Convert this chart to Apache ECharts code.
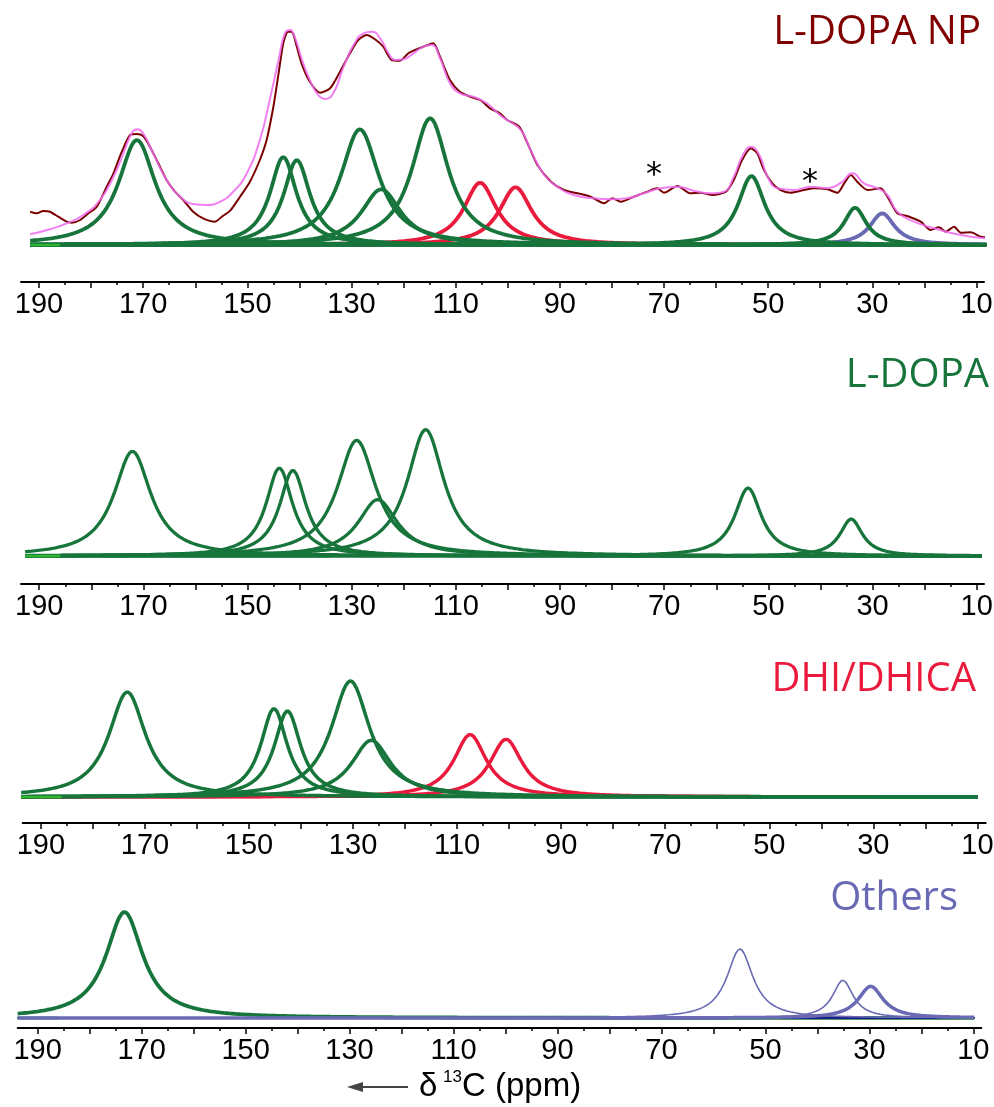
<!DOCTYPE html>
<html>
<head>
<meta charset="utf-8">
<script src="https://cdn.jsdelivr.net/npm/echarts@6/dist/echarts.min.js"></script>
<style>
  html, body { margin: 0; padding: 0; background: #fff; }
  #chart { width: 994px; height: 1107px; }
</style>
</head>
<body>
<div id="chart"></div>
<script>
// tick values (ppm)
const xTicksMajor = [190, 180, 170, 160, 150, 140, 130, 120, 110, 100, 90, 80, 70, 60, 50, 40, 30, 20, 10];
const xTicksMinor = [185, 175, 165, 155, 145, 135, 125, 115, 105, 95, 85, 75, 65, 55, 45, 35, 25, 15];
const xTickLabels = [190, 170, 150, 130, 110, 90, 70, 50, 30, 10];

// fitted peaks: [centre ppm, height, half width ppm]
const npGreen = [[171.2, 105, 4.3], [143.1, 88, 3.1], [140.5, 85, 3.1], [128.4, 115.7, 4.5],
                 [124.3, 55.7, 4.6], [114.9, 126.7, 4.3], [53.2, 69, 3.1], [33.3, 37.3, 2.6]];
const npRed = [[105.3, 62.3, 3.8], [98.5, 57.7, 3.8]];
const npBlue = [[28.1, 31.7, 2.9]];

const dopaGreen = [[172.1, 104.7, 4.3], [143.9, 88, 3.1], [141.3, 85.7, 3.1], [129.05, 115.7, 4.5],
                   [125.0, 56.4, 4.6], [115.8, 126.4, 4.3], [53.9, 68, 3.1], [34.1, 37, 2.6]];

const dhiGreen = [[173.4, 105, 4.3], [145.2, 88.4, 3.1], [142.6, 86, 3.1], [130.5, 116, 4.5], [126.5, 56.7, 4.6]];
const dhiRed = [[107.5, 62.4, 3.8], [100.6, 57.7, 3.8]];

const otherGreen = [[173.3, 106, 4.3]];
const otherBlueThin = [[54.9, 69, 3.05], [35.1, 37.7, 2.4]];
const otherBlueThick = [[29.75, 31.7, 2.9]];

// measured L-DOPA NP spectrum [ppm, intensity]
const npSpectrum = [
  [191.7, 33.3], [190.4, 31.7], [189.2, 34], [187.9, 33.3], [186.3, 28.3], [184.7, 23.3], [183.7, 22.3],
  [182.1, 25], [180.5, 31.7], [178.9, 38.3], [177.0, 58.3], [175.7, 71.7], [174.1, 93.3], [172.5, 110],
  [171.2, 111], [170.0, 109], [168.7, 98.3], [167.1, 81.7], [165.5, 65], [163.9, 53.3], [162.3, 45],
  [160.4, 33.3], [158.5, 26.7], [156.2, 23.3], [154.9, 28.3], [153.3, 34.3], [151.4, 48.3], [149.5, 63.3],
  [147.6, 85], [146.3, 105], [145.0, 138.3], [144.0, 171.7], [143.1, 201.7], [142.2, 213.3], [141.5, 213.3],
  [140.5, 198.3], [139.6, 181.7], [138.0, 163.3], [136.0, 152.3], [134.1, 156.7], [132.2, 173.3],
  [130.3, 191.7], [128.7, 205], [127.1, 210], [125.5, 205.7], [123.9, 198.3], [122.3, 185], [120.7, 184.3],
  [119.1, 191.7], [117.5, 195.7], [116.2, 198.3], [114.3, 201.7], [113.0, 188.3], [111.1, 165], [109.2, 153.3],
  [107.2, 148.3], [105.3, 145], [103.4, 136.7], [101.5, 131.7], [100.1, 125], [97.8, 118.3], [96.2, 101.7],
  [94.3, 80], [91.7, 63.3], [89.2, 55], [86.6, 51.7], [84.1, 48.3], [81.5, 41.7], [79.9, 46.7], [78.3, 43.3],
  [75.8, 48.3], [73.2, 53.3], [71.3, 56.7], [70.0, 52.3], [67.4, 59], [65.0, 51.7], [63.0, 52.3], [60.7, 50],
  [58.1, 53.3], [56.6, 65], [55.0, 85], [53.3, 96.7], [52.1, 91.7], [50.8, 75], [49.2, 61.7], [47.6, 55],
  [45.7, 52.3], [43.1, 55], [41.2, 56.7], [38.6, 55.7], [36.7, 52.3], [35.4, 61.7], [34.1, 70], [32.9, 63.3],
  [30.9, 55], [28.4, 56.7], [27.1, 48.3], [25.2, 31.7], [23.3, 29], [20.7, 23.3], [18.8, 15], [17.2, 17.7],
  [15.9, 13.3], [14.3, 18.3], [13.0, 12.3], [11.1, 12.7], [9.2, 8.3], [8.0, 7.7]
];

// overall fit envelope [ppm, intensity]
const npFit = [
  [191.7, 10.7], [187.9, 15.7], [184.7, 21.7], [181.5, 30], [178.3, 45], [175.7, 68.3], [173.8, 91.7],
  [172.2, 111.7], [171.1, 115.7], [170.0, 111.7], [168.1, 91.7], [165.5, 65], [162.9, 48.3], [160.4, 41],
  [157.8, 40], [155.2, 43.3], [152.7, 53.3], [150.1, 71.7], [147.6, 105], [145.7, 145], [144.0, 185],
  [142.8, 211.7], [141.8, 215], [140.8, 206.7], [139.6, 186.7], [138.0, 165], [136.4, 150], [135.1, 146],
  [133.5, 151.7], [131.5, 178.3], [129.6, 200], [127.7, 211.7], [126.1, 213.3], [124.5, 206.7], [122.9, 191.7],
  [121.6, 185], [120.0, 185.7], [118.1, 191.7], [116.2, 198.3], [114.6, 200], [113.0, 186.7], [111.1, 161.7],
  [109.2, 151.7], [106.6, 148.3], [104.0, 141.7], [101.5, 130], [100.1, 125], [97.5, 115], [95.6, 95],
  [93.0, 70], [90.5, 58.3], [87.3, 50], [83.5, 46.7], [80.3, 45.7], [77.1, 46.7], [73.9, 51.7], [70.7, 56.7],
  [67.4, 58.3], [64.3, 54.3], [61.1, 51.7], [58.5, 53.3], [56.6, 68.3], [55.0, 88.3], [53.3, 98.3], [51.7, 90],
  [50.1, 68.3], [48.2, 56.7], [45.0, 55], [41.8, 58.3], [38.6, 56.7], [36.0, 62.3], [33.8, 71.7], [31.6, 61.7],
  [29.0, 56.7], [27.1, 50], [25.2, 33.3], [22.0, 23.3], [18.1, 16.7], [13.0, 10], [8.0, 6.7]
];

const GREEN = '#17753c';
const RED = '#ea1a3d';
const BLUE = '#6969b4';
const NAVY = '#1c1c8a';
const LIME = '#2fb52f';

// layout of the four stacked panels
const panels = [
  { left: 21, right: 10, top: 20, height: 262, x: [8.55, 193.46], y: [-37, 225], span: [191.7, 8.0] },
  { left: 21, right: 10, top: 330, height: 254, x: [8.6, 193.5], y: [-28, 226], span: [192.7, 9.0] },
  { left: 22.7, right: 8.3, top: 640, height: 183, x: [8.4, 193.5], y: [-26, 157], span: [193.8, 10.0] },
  { left: 17.7, right: 12.7, top: 880, height: 148, x: [8.47, 193.84], y: [-10, 138], span: [193.85, 9.74] }
];

function lorentzCurve(peak, span) {
  const [c, h, g] = peak;
  const pts = [];
  for (let x = span[0]; x >= span[1] - 1e-9; x -= 0.2) {
    const d = (x - c) / g;
    pts.push([x, h / (1 + d * d)]);
  }
  return pts;
}

const grids = [], xAxes = [], yAxes = [], series = [];

panels.forEach((p, i) => {
  grids.push({ left: p.left, right: p.right, top: p.top, height: p.height, containLabel: false, outerBoundsMode: 'none' });
  xAxes.push({
    gridIndex: i, type: 'value', inverse: true, min: p.x[0], max: p.x[1], position: 'bottom',
    axisLine: { show: true, onZero: false, lineStyle: { color: '#000', width: 2 } },
    axisTick: { show: true, inside: false, length: 6, customValues: xTicksMajor, lineStyle: { color: '#000', width: 1.5 } },
    axisLabel: { show: true, customValues: xTickLabels, color: '#000', fontSize: 29,
                 fontFamily: 'Liberation Sans', margin: 8 },
    splitLine: { show: false }
  });
  xAxes.push({
    gridIndex: i, type: 'value', inverse: true, min: p.x[0], max: p.x[1], position: 'bottom',
    axisLine: { show: false, onZero: false },
    axisTick: { show: true, inside: false, length: 3, customValues: xTicksMinor, lineStyle: { color: '#000', width: 1.5 } },
    axisLabel: { show: false },
    splitLine: { show: false }
  });
  yAxes.push({ gridIndex: i, type: 'value', min: p.y[0], max: p.y[1], show: false, splitLine: { show: false } });

  // baselines
  series.push(line(i, [[p.span[0], 0], [p.span[1], 0]], NAVY, 2.2, 1));
  series.push(line(i, [[p.span[0], 0], [186, 0]], LIME, 2.4, 4));
});

function line(i, data, color, width, z, extra) {
  return Object.assign({
    type: 'line', xAxisIndex: i * 2, yAxisIndex: i, data: data, showSymbol: false, symbol: 'none',
    lineStyle: { color: color, width: width }, z: z, silent: true, animation: false, clip: false
  }, extra || {});
}

function addPeaks(i, peaks, color, width, z) {
  peaks.forEach(pk => series.push(line(i, lorentzCurve(pk, panels[i].span), color, width, z)));
}

addPeaks(0, npRed, RED, 3.8, 2);
addPeaks(0, npBlue, BLUE, 3.8, 2);
addPeaks(0, npGreen, GREEN, 3.8, 3);
series.push(line(0, npSpectrum, '#7a0000', 2, 6, { smooth: 0.25 }));
series.push(line(0, npFit, '#f06af0', 2, 7, { smooth: 0.5, lineStyle: { color: '#f06af0', width: 2, opacity: 0.85 } }));

addPeaks(1, dopaGreen, GREEN, 3.3, 3);

addPeaks(2, dhiRed, RED, 3.5, 2);
addPeaks(2, dhiGreen, GREEN, 3.5, 3);

addPeaks(3, otherGreen, GREEN, 3.8, 3);
series.push(line(3, [[panels[3].span[0], 0], [panels[3].span[1], 0]], NAVY, 2.2, 4));
series.push(line(3, [[panels[3].span[0], 0], [186, 0]], LIME, 2.4, 5));
addPeaks(3, otherBlueThin, BLUE, 1.6, 5);
addPeaks(3, otherBlueThick, BLUE, 3.5, 5);

function label(text, x, y, color, size, family, align) {
  return {
    type: 'text', z: 100, silent: true,
    style: { text: text, x: x, y: y, fill: color, fontSize: size, fontFamily: family,
             align: align || 'left', verticalAlign: 'middle' }
  };
}

const graphics = [
  label('L-DOPA NP', 981, 33, '#800000', 40, 'Open Sans', 'right'),
  label('L-DOPA', 989, 376, GREEN, 40, 'Open Sans', 'right'),
  label('DHI/DHICA', 976, 680, RED, 40, 'Open Sans', 'right'),
  label('Others', 958, 899, BLUE, 40, 'Open Sans', 'right'),
  label('*', 654, 176, '#000', 32, 'DejaVu Sans', 'center'),
  label('*', 810, 183, '#000', 32, 'DejaVu Sans', 'center'),
  // axis title
  { type: 'line', silent: true, shape: { x1: 358, y1: 1087, x2: 408, y2: 1087 }, style: { stroke: '#444', lineWidth: 2 } },
  { type: 'polygon', silent: true, shape: { points: [[347, 1087], [363, 1082], [363, 1092]] }, style: { fill: '#444' } },
  label('δ', 419, 1087, '#000', 33, 'Liberation Sans'),
  label('13', 443, 1077, '#000', 17, 'Liberation Sans'),
  label('C (ppm)', 462, 1087, '#000', 33, 'Liberation Sans')
];

const chart = echarts.init(document.getElementById('chart'));
chart.setOption({
  animation: false,
  backgroundColor: '#fff',
  grid: grids,
  xAxis: xAxes,
  yAxis: yAxes,
  series: series,
  graphic: graphics
});
</script>
</body>
</html>
